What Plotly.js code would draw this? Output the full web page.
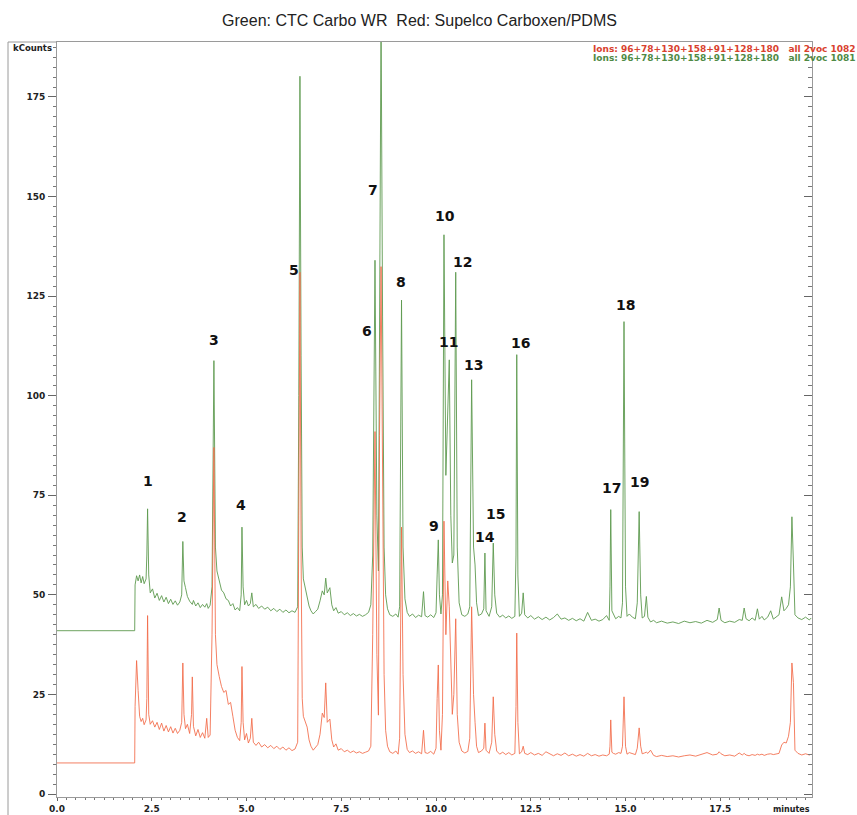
<!DOCTYPE html>
<html>
<head>
<meta charset="utf-8">
<script src="https://cdn.plot.ly/plotly-3.0.1.min.js"></script>
<style>
html,body{margin:0;padding:0;background:#fff;}
#chart{width:857px;height:815px;}
</style>
</head>
<body>
<div id="chart"></div>
<script>
// retention time (minutes)
const time = [
  0.00, 2.05, 2.06, 2.10, 2.14, 2.18, 2.22, 2.26, 2.30, 2.35,
  2.37, 2.39, 2.42, 2.46, 2.52, 2.58, 2.64, 2.70, 2.76, 2.82,
  2.88, 2.94, 3.00, 3.06, 3.12, 3.18, 3.24, 3.29, 3.32, 3.35,
  3.39, 3.44, 3.50, 3.55, 3.57, 3.60, 3.66, 3.72, 3.78, 3.84,
  3.90, 3.95, 3.99, 4.04, 4.09, 4.14, 4.18, 4.22, 4.28, 4.34,
  4.40, 4.46, 4.52, 4.58, 4.64, 4.70, 4.76, 4.82, 4.86, 4.88,
  4.91, 4.95, 5.00, 5.05, 5.10, 5.14, 5.18, 5.25, 5.32, 5.40,
  5.48, 5.56, 5.64, 5.72, 5.80, 5.88, 5.96, 6.04, 6.12, 6.20,
  6.28, 6.35, 6.38, 6.41, 6.44, 6.47, 6.50, 6.55, 6.60, 6.65,
  6.70, 6.76, 6.82, 6.88, 6.94, 7.00, 7.05, 7.09, 7.13, 7.20,
  7.25, 7.30, 7.36, 7.42, 7.50, 7.58, 7.66, 7.74, 7.82, 7.90,
  7.98, 8.06, 8.14, 8.22, 8.28, 8.33, 8.39, 8.44, 8.48, 8.51,
  8.55, 8.59, 8.63, 8.67, 8.72, 8.78, 8.86, 8.94, 9.00, 9.04,
  9.09, 9.13, 9.18, 9.24, 9.30, 9.38, 9.46, 9.54, 9.62, 9.67,
  9.71, 9.78, 9.86, 9.94, 10.00, 10.03, 10.06, 10.09, 10.13, 10.17,
  10.21, 10.26, 10.31, 10.35, 10.39, 10.43, 10.47, 10.52, 10.56, 10.61,
  10.68, 10.76, 10.84, 10.89, 10.94, 10.99, 11.03, 11.07, 11.12, 11.20,
  11.26, 11.29, 11.32, 11.40, 11.47, 11.51, 11.55, 11.60, 11.68, 11.76,
  11.84, 11.92, 12.00, 12.08, 12.11, 12.13, 12.16, 12.20, 12.26, 12.30,
  12.34, 12.42, 12.50, 12.60, 12.70, 12.80, 12.90, 13.00, 13.10, 13.20,
  13.30, 13.40, 13.50, 13.60, 13.70, 13.80, 13.90, 14.00, 14.10, 14.20,
  14.30, 14.40, 14.50, 14.57, 14.59, 14.61, 14.64, 14.68, 14.74, 14.82,
  14.88, 14.92, 14.96, 15.00, 15.04, 15.10, 15.18, 15.26, 15.31, 15.36,
  15.40, 15.44, 15.50, 15.55, 15.59, 15.66, 15.74, 15.82, 15.95, 16.10,
  16.25, 16.40, 16.55, 16.70, 16.85, 17.00, 17.15, 17.30, 17.42, 17.47,
  17.52, 17.62, 17.75, 17.88, 18.00, 18.08, 18.13, 18.18, 18.26, 18.34,
  18.42, 18.48, 18.53, 18.60, 18.66, 18.75, 18.83, 18.90, 18.98, 19.05,
  19.12, 19.18, 19.24, 19.30, 19.35, 19.39, 19.43, 19.47, 19.55, 19.65,
  19.75, 19.85, 19.90
];

// Green: CTC Carbo WR (kCounts)
const green = [
  41.0, 41.0, 52.5, 54.8, 53.5, 55.0, 53.0, 54.6, 52.8, 54.0,
  60, 71.6, 55, 50.5, 51.5, 49.2, 50.4, 48.6, 49.8, 48.2,
  49.4, 47.8, 48.9, 47.6, 48.5, 47.4, 48.2, 50, 63.4, 53.5,
  51.8, 49.6, 48.4, 48.0, 47.6, 48.6, 47.2, 48.0, 46.8, 47.6,
  46.9, 47.8, 46.6, 47.4, 52, 108.8, 62, 56, 53.5, 51.2,
  50.5, 49.0, 48.6, 47.2, 47.8, 46.2, 46.8, 46.0, 50, 67,
  52, 47.5, 48.6, 47.2, 47.8, 50.5, 47.0, 47.6, 46.6, 47.2,
  46.4, 46.9, 46.0, 46.6, 45.8, 46.4, 45.6, 46.2, 45.5, 46.0,
  45.6, 47.0, 100, 180.2, 110, 62, 54.0, 51.5, 49.6, 47.2,
  46.0, 45.2, 45.8, 46.4, 48.5, 51.0, 50.0, 54.2, 50.5, 51.8,
  47.5, 46.0, 46.8, 45.4, 45.8, 45.0, 45.5, 44.8, 45.3, 44.7,
  45.1, 44.6, 45.0, 45.6, 47.5, 60, 134, 70, 56, 120,
  196, 120, 62, 50, 46.5, 45.0, 44.6, 45.2, 44.4, 47,
  124, 62, 49, 45.6, 44.6, 45.2, 44.3, 44.9, 44.5, 50.8,
  44.8, 44.4, 45.0, 44.3, 45.5, 55, 63.8, 50, 45.2, 50,
  140.4, 80, 95, 109, 70, 58, 60, 131, 62, 48,
  45.0, 44.6, 45.2, 47, 104, 62, 57.5, 48, 44.8, 45.2,
  46.5, 60.5, 46, 44.6, 47, 63, 50, 45.4, 44.4, 44.9,
  44.2, 44.7, 44.1, 44.6, 60, 110.3, 55, 44.6, 45.4, 50.5,
  45.0, 44.2, 44.8, 43.9, 44.5, 43.8, 44.4, 43.7, 44.3, 45.2,
  43.9, 44.2, 43.6, 44.1, 43.5, 44.0, 43.4, 45.6, 43.6, 43.9,
  43.4, 43.8, 44.8, 43.6, 52, 71.4, 46, 45.2, 44.0, 44.6,
  44.2, 48, 118.6, 52, 44.6, 45.2, 44.4, 44.0, 48, 70.9,
  50, 44.2, 44.6, 49.6, 44.4, 43.2, 43.6, 43.0, 43.4, 42.9,
  43.2, 42.8, 43.4, 43.0, 43.3, 42.9, 43.6, 43.1, 43.8, 46.7,
  43.6, 43.0, 43.4, 43.1, 43.8, 43.6, 46.7, 44.0, 43.5, 44.2,
  43.6, 46.5, 43.9, 44.6, 43.7, 44.4, 46.0, 43.9, 44.6, 45.0,
  49.5, 46.0, 46.6, 47.5, 52, 69.6, 58, 45, 44.2, 43.8,
  44.4, 43.7, 44.2
];

// Red: Supelco Carboxen/PDMS (kCounts)
const red = [
  7.8, 7.8, 22, 33.5, 26, 19.5, 18.2, 19.0, 17.4, 18.6,
  24, 44.8, 20, 17.5, 18.4, 16.8, 18.0, 16.2, 17.8, 15.8,
  17.2, 15.6, 16.9, 15.3, 16.5, 15.2, 16.0, 18, 32.9, 20,
  16.4, 17.5, 15.2, 20, 29.4, 17.0, 14.6, 16.2, 14.2, 15.4,
  14.0, 19.0, 14.2, 14.8, 40, 87, 40, 32.5, 29.5, 27.0,
  25.5, 26.0, 22.5, 23.0, 19.5, 16.0, 14.2, 13.4, 18, 32,
  18, 13.6, 15.2, 12.8, 14.0, 19.0, 13.0, 12.2, 13.0, 11.8,
  12.4, 11.6, 12.2, 11.4, 12.0, 11.2, 11.8, 11.0, 11.6, 10.9,
  11.3, 13, 70, 131, 60, 24, 19.5, 18.0, 16.8, 13.6,
  12.0, 11.0, 11.6, 12.4, 15.0, 20.3, 19.2, 27.9, 18.0, 18.8,
  13.6, 11.8, 12.6, 11.0, 11.4, 10.6, 11.0, 10.4, 10.8, 10.3,
  10.6, 10.2, 10.5, 10.8, 12, 40, 91, 35, 19.8, 90,
  132.4, 70, 30, 16, 12.0, 10.6, 10.2, 10.8, 10.0, 14,
  67, 30, 15, 11.2, 10.4, 10.8, 10.2, 10.6, 10.1, 16.0,
  10.4, 10.2, 10.7, 10.0, 11.5, 24, 32.4, 16, 11, 20,
  68.5, 40, 53.5, 47, 30, 20, 25, 44, 20, 13,
  10.8, 10.3, 10.7, 14, 47, 25, 18, 12, 10.4, 10.8,
  11.5, 17.8, 11, 10.2, 13, 24.4, 15, 10.8, 10.0, 10.5,
  9.9, 10.4, 9.8, 10.2, 22, 40.4, 18, 10.1, 10.6, 12.0,
  10.2, 9.9, 10.4, 9.8, 10.2, 9.7, 10.6, 10.0, 9.6, 10.1,
  9.7, 10.3, 9.6, 10.0, 9.5, 9.9, 9.5, 10.2, 9.6, 9.9,
  9.5, 9.8, 9.6, 10.0, 12, 18.6, 10.5, 10.2, 10.0, 10.4,
  10.2, 12, 24.4, 12, 10.0, 10.4, 10.1, 9.9, 11.5, 16.6,
  12, 10.1, 10.3, 10.5, 10.2, 11.0, 9.7, 9.4, 9.7, 9.4,
  9.6, 9.3, 9.6, 9.8, 9.5, 9.9, 10.4, 9.8, 10.0, 10.6,
  10.1, 9.6, 9.8, 9.5, 10.3, 9.8, 10.2, 9.8, 9.6, 9.9,
  9.7, 10.0, 9.8, 10.0, 9.7, 10.0, 10.1, 9.9, 10.0, 10.2,
  12.3, 13.0, 12.8, 14.5, 18, 32.9, 28, 11, 10.2, 9.8,
  10.1, 9.8, 10.0
];

// peak numbers and where their labels sit
const peakLabels = ['1','2','3','4','5','6','7','8','9','10','11','12','13','14','15','16','17','18','19'];
const peakLabelTime = [2.40, 3.30, 4.14, 4.85, 6.25, 8.18, 8.34, 9.08, 9.95, 10.24, 10.32, 10.69, 11.00, 11.29, 11.58, 12.22, 14.62, 15.01, 15.38];
const peakLabelHeight = [78.6, 69.5, 114.0, 72.6, 131.6, 116.2, 151.6, 128.5, 67.3, 145.1, 113.5, 133.6, 107.7, 64.5, 70.3, 113.2, 76.8, 122.8, 78.3];

const titleText = 'Green: CTC Carbo WR\u00a0 Red: Supelco Carboxen/PDMS';
const ionsRed = 'Ions: 96+78+130+158+91+128+180\u00a0\u00a0 all 2voc 1082';
const ionsGreen = 'Ions: 96+78+130+158+91+128+180\u00a0\u00a0 all 2voc 1081';

const GREEN = '#5e9a50';
const RED = '#f26a48';
const tickFont = {family: 'DejaVu Sans', size: 9, color: '#222', weight: 'bold'};

const yRange = [-0.75, 188.8];

const traces = [
  {x: time, y: green, type: 'scatter', mode: 'lines', line: {color: GREEN, width: 1}, opacity: 0.9, hoverinfo: 'skip', xaxis: 'x', yaxis: 'y'},
  {x: time, y: red, type: 'scatter', mode: 'lines', line: {color: RED, width: 1}, opacity: 0.85, hoverinfo: 'skip', xaxis: 'x', yaxis: 'y2'}
];

const annotations = peakLabels.map((t, i) => ({
  x: peakLabelTime[i], y: peakLabelHeight[i], xref: 'x', yref: 'y',
  text: t, showarrow: false, xanchor: 'center', yanchor: 'middle',
  font: {family: 'DejaVu Sans', size: 14, color: '#111', weight: 'bold'}
}));

const L = 57, R = 812, T = 42, B = 797, W = 857, H = 815;
const px = v => (v - L) / (R - L);
const py = v => (B - v) / (B - T);

annotations.push(
  {xref: 'paper', yref: 'paper', x: px(591), y: py(48.5), xanchor: 'left', yanchor: 'middle', showarrow: false,
   text: ionsRed, font: {family: 'DejaVu Sans', size: 9, color: '#d9412e', weight: 'bold'}},
  {xref: 'paper', yref: 'paper', x: px(591), y: py(57.5), xanchor: 'left', yanchor: 'middle', showarrow: false,
   text: ionsGreen, font: {family: 'DejaVu Sans', size: 9, color: '#4f8a45', weight: 'bold'}},
  {xref: 'paper', yref: 'paper', x: px(11), y: py(48), xanchor: 'left', yanchor: 'middle', showarrow: false,
   text: 'kCounts', font: {family: 'DejaVu Sans', size: 8.5, color: '#222', weight: 'bold'}},
  {xref: 'paper', yref: 'paper', x: px(812), y: py(809), xanchor: 'right', yanchor: 'middle', showarrow: false,
   text: 'minutes', font: {family: 'DejaVu Sans', size: 8, color: '#222', weight: 'bold'}}
);

const layout = {
  width: W, height: H,
  margin: {l: L, r: W - R, t: T, b: H - B, pad: 0},
  paper_bgcolor: '#fff', plot_bgcolor: '#fff',
  showlegend: false,
  title: {text: titleText, font: {family: 'Liberation Sans, Arial, sans-serif', size: 16, color: '#222'},
          xref: 'paper', x: (419.5 - L) / (R - L), xanchor: 'center', yref: 'container', y: 1 - 20 / H, yanchor: 'middle'},
  xaxis: {
    range: [0, 19.92], showgrid: false, zeroline: false,
    showline: true, linecolor: '#9a9a9a', linewidth: 1, mirror: true,
    ticks: 'outside', ticklen: 3, tickcolor: '#666', tickwidth: 1,
    dtick: 2.5, tick0: 0, tickformat: '.1f', tickfont: tickFont,
    minor: {dtick: 0.25, ticks: 'outside', ticklen: 2, tickcolor: '#777', showgrid: false},
    ticklabelstandoff: 0
  },
  yaxis: {
    range: yRange, showgrid: false, zeroline: false,
    showline: true, linecolor: '#9a9a9a', linewidth: 1,
    ticks: 'outside', ticklen: 8, tickcolor: '#666', tickwidth: 1,
    dtick: 25, tick0: 0, tickfont: tickFont,
    minor: {dtick: 2.5, ticks: 'outside', ticklen: 3, tickcolor: '#777', showgrid: false},
    ticklabelstandoff: 1
  },
  yaxis2: {
    range: yRange, overlaying: 'y', side: 'right', showgrid: false, zeroline: false,
    showline: true, linecolor: '#9a9a9a', linewidth: 1,
    ticks: 'inside', ticklen: 8, tickcolor: '#666', tickwidth: 1,
    dtick: 25, tick0: 0, showticklabels: false,
    minor: {dtick: 2.5, ticks: 'inside', ticklen: 4, tickcolor: '#777', showgrid: false}
  },
  shapes: [
    {type: 'line', xref: 'paper', yref: 'paper', x0: px(8), x1: px(8), y0: 1, y1: py(H + 5), line: {color: '#9a9a9a', width: 1}},
    {type: 'line', xref: 'paper', yref: 'paper', x0: px(8), x1: 0, y0: 1, y1: 1, line: {color: '#9a9a9a', width: 1}}
  ],
  annotations: annotations
};

Plotly.newPlot('chart', traces, layout, {displayModeBar: false, staticPlot: true});
</script>
</body>
</html>
